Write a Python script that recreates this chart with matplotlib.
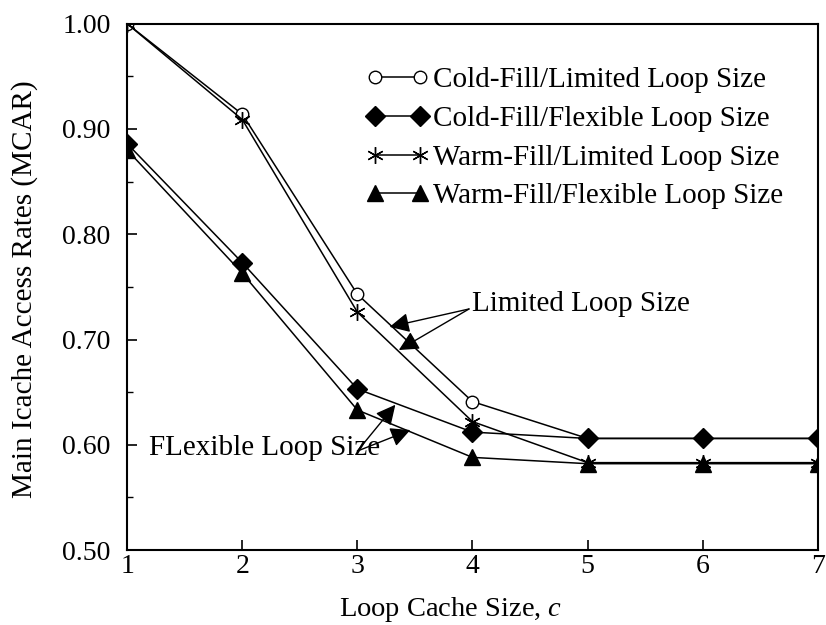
import matplotlib
matplotlib.use("Agg")
import matplotlib.pyplot as plt
from matplotlib.ticker import MultipleLocator

plt.rcParams["font.family"] = ["Liberation Serif", "DejaVu Serif"]
plt.rcParams["mathtext.fontset"] = "custom"
plt.rcParams["mathtext.it"] = "Liberation Serif:italic"

# loop cache size
cache_size = [1, 2, 3, 4, 5, 6, 7]
cold_limited = [1.000, 0.914, 0.743, 0.641, 0.606, 0.606, 0.606]
cold_flexible = [0.886, 0.773, 0.653, 0.612, 0.606, 0.606, 0.606]
warm_limited = [1.000, 0.909, 0.726, 0.622, 0.583, 0.583, 0.583]
warm_flexible = [0.880, 0.763, 0.633, 0.588, 0.582, 0.582, 0.582]

fig = plt.figure(figsize=(8.26, 6.25), dpi=100)
ax = fig.add_axes([0.154, 0.12, 0.836, 0.842])

ax.plot(cache_size, cold_limited, color="black", lw=1.1, marker="o", ms=9,
        mfc="white", mec="black", mew=1.0, label="Cold-Fill/Limited Loop Size")
ax.plot(cache_size, cold_flexible, color="black", lw=1.1, marker="D", ms=10,
        mfc="black", mec="black", label="Cold-Fill/Flexible Loop Size")
ax.plot(cache_size, warm_limited, color="black", lw=1.1, marker=(6, 2, 0), ms=12,
        mew=1.0, label="Warm-Fill/Limited Loop Size")
ax.plot(cache_size, warm_flexible, color="black", lw=1.1, marker="^", ms=11,
        mfc="black", mec="black", label="Warm-Fill/Flexible Loop Size")

ax.set_xlim(1, 7)
ax.set_ylim(0.5, 1.0)
ax.set_xticks(cache_size)
ax.set_yticks([0.5, 0.6, 0.7, 0.8, 0.9, 1.0])
ax.set_yticklabels(["0.50", "0.60", "0.70", "0.80", "0.90", "1.00"])
ax.yaxis.set_minor_locator(MultipleLocator(0.05))
ax.tick_params(direction="in", length=7, width=1.2, labelsize=20, top=False, right=False)
ax.tick_params(which="minor", direction="in", length=4, width=1.0, right=False)
ax.tick_params(axis="x", pad=3)
ax.tick_params(axis="y", pad=12)
for s in ax.spines.values():
    s.set_linewidth(1.5)

ax.set_xlabel("Loop Cache Size, $c$", fontsize=20.5, va="center")
ax.xaxis.set_label_coords(0.469, -0.114)
ax.set_ylabel("Main Icache Access Rates (MCAR)", fontsize=21, va="center")
ax.yaxis.set_label_coords(-0.149, 0.495)

leg = ax.legend(loc="upper left", bbox_to_anchor=(0.329, 0.94), frameon=False,
                fontsize=21, numpoints=2, handlelength=2.15, handletextpad=0.14,
                labelspacing=0.42, borderaxespad=0)

arrow = dict(arrowstyle="-|>", color="black", lw=1.0, mutation_scale=30, shrinkA=0, shrinkB=0)
ax.text(4.0, 0.734, "Limited Loop Size", fontsize=21, va="center", ha="left")
ax.annotate("", xy=(3.28, 0.712), xytext=(3.97, 0.729), arrowprops=arrow)
ax.annotate("", xy=(3.36, 0.690), xytext=(3.97, 0.729), arrowprops=arrow)

ax.text(1.19, 0.597, "FLexible Loop Size", fontsize=21, va="center", ha="left")
ax.annotate("", xy=(3.33, 0.638), xytext=(3.0, 0.594), arrowprops=arrow)
ax.annotate("", xy=(3.46, 0.614), xytext=(3.0, 0.594), arrowprops=arrow)

fig.savefig("out.png", dpi=100)
